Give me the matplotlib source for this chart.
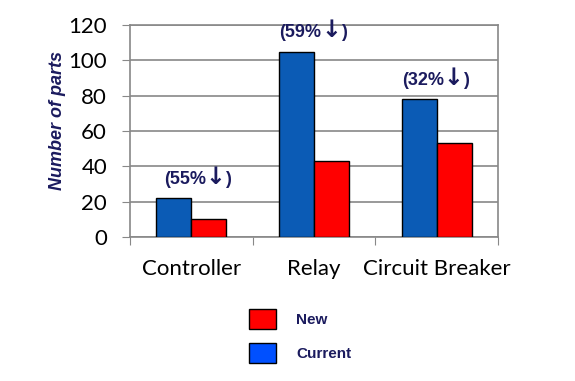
import matplotlib
matplotlib.use("Agg")
import matplotlib.pyplot as plt
import numpy as np
from matplotlib.patches import Patch
from matplotlib.offsetbox import TextArea, HPacker, AnnotationBbox

categories = ["Controller", "Relay", "Circuit Breaker"]
current = [22, 105, 78]
new = [10, 43, 53]
reduction = ["55%", "59%", "32%"]
yticks = [0, 20, 40, 60, 80, 100, 120]

navy = "#1b1b5e"
fig = plt.figure(figsize=(5.75, 3.81), dpi=100)
ax = fig.add_axes([130 / 575, 1 - 237 / 381, 368 / 575, 212 / 381])

x = np.arange(len(categories))
w = 0.285
ax.bar(x - w / 2, current, w, color="#0b5bb5", edgecolor="black", linewidth=1, zorder=3)
ax.bar(x + w / 2, new, w, color="#ff0000", edgecolor="black", linewidth=1, zorder=3)

# percentage labels above the current bars, arrow in a bigger font
lab = dict(color=navy, fontsize=13, fontweight="bold", family="Liberation Sans")
arr = dict(color=navy, fontsize=17, fontweight="bold", family="DejaVu Sans")
for i, p in enumerate(reduction):
    dx = 0.05 if i == 0 else -0.01
    box = HPacker(children=[TextArea("(" + p, textprops=lab), TextArea("\u2193", textprops=arr),
                            TextArea(")", textprops=lab)], align="baseline", pad=0, sep=0)
    ab = AnnotationBbox(box, (x[i] + dx, current[i] + 12), frameon=False, box_alignment=(0.5, 0.5))
    ax.add_artist(ab)

ax.set_xlim(-0.5, len(categories) - 0.5)
ax.set_ylim(0, 120)
ax.set_yticks(yticks)
ax.set_yticklabels([str(v) for v in yticks], family="Lato", fontsize=16)
ax.set_xticks(np.arange(len(categories) + 1) - 0.5)
ax.set_xticklabels([])
ax.set_xticks(x, minor=True)
ax.set_xticklabels(categories, minor=True, family="Lato", fontsize=16)
ax.tick_params(axis="x", which="minor", length=0, pad=16)
ax.tick_params(axis="x", which="major", length=5.5, color="#888888")
ax.tick_params(axis="y", length=5.5, color="#888888", pad=11)
ax.grid(axis="y", color="#888888", linewidth=1.2, zorder=0)
for s in ax.spines.values():
    s.set_color("#888888")
    s.set_linewidth(1.2)

fig.text(58 / 575, 1 - 120 / 381, "Number of parts", rotation=90, ha="center", va="center",
         color=navy, fontsize=13, fontweight="bold", fontstyle="italic", family="Liberation Sans")

handles = [Patch(facecolor="#ff0000", edgecolor="black"), Patch(facecolor="#0050ff", edgecolor="black")]
leg = fig.legend(handles, ["New", "Current"], loc="center", bbox_to_anchor=(300 / 575, 1 - 336 / 381),
                 frameon=False, handlelength=1.8, handleheight=1.6, labelspacing=0.9, handletextpad=1.3,
                 prop={"family": "Liberation Sans", "weight": "bold", "size": 11})
for t in leg.get_texts():
    t.set_color(navy)

fig.savefig("out.png", dpi=100)
